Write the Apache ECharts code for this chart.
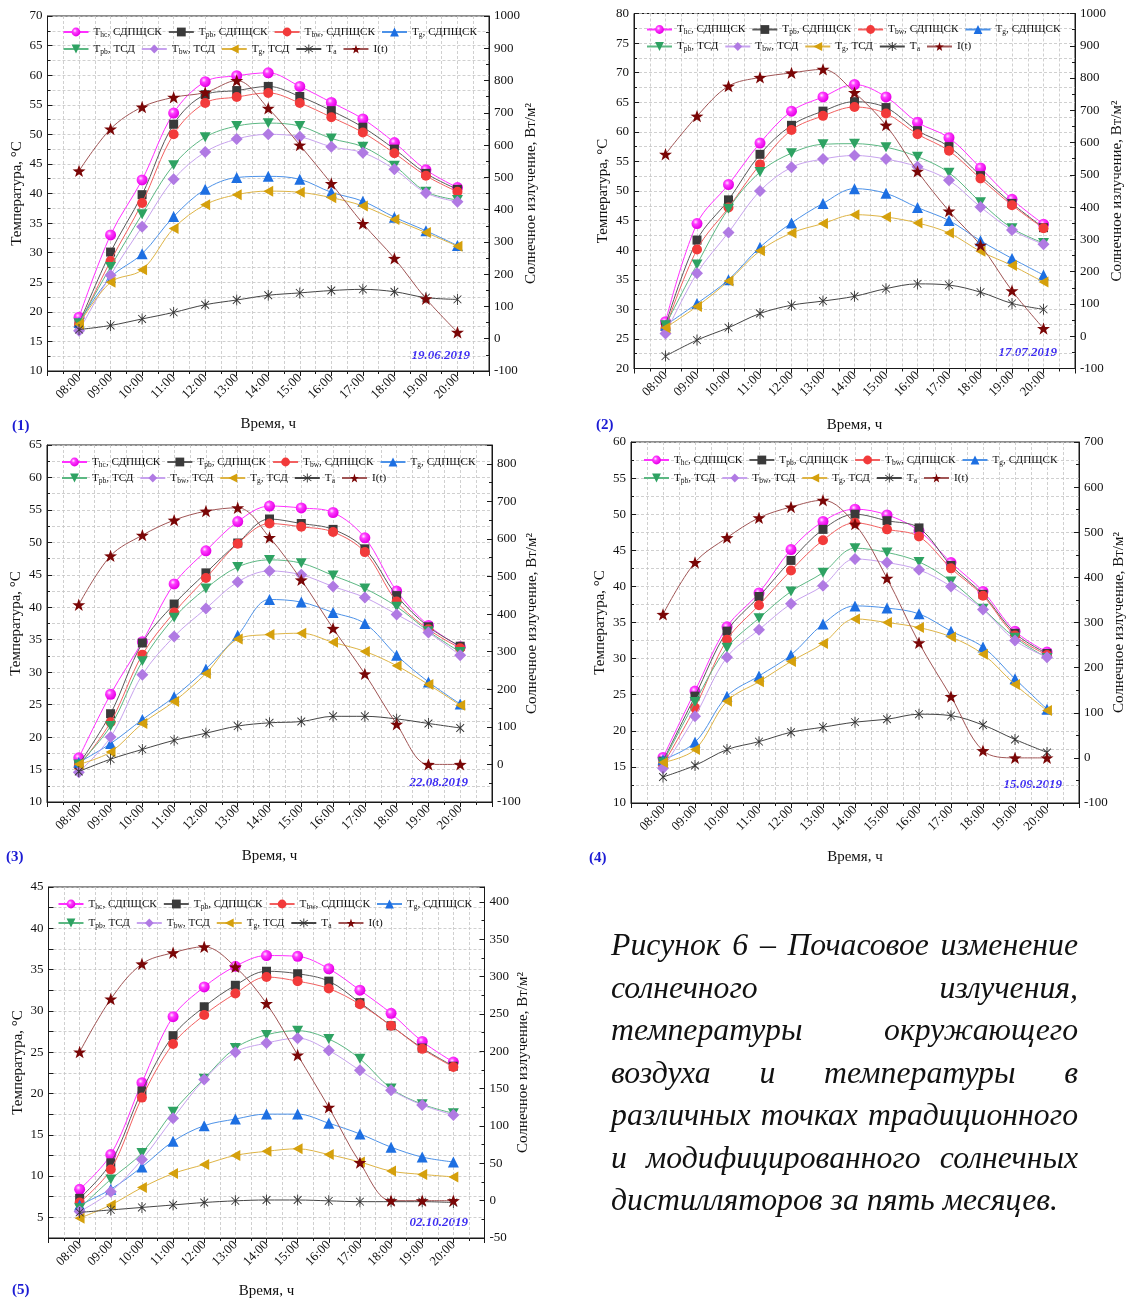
<!DOCTYPE html>
<html><head><meta charset="utf-8">
<script src="https://cdn.jsdelivr.net/npm/echarts@6/dist/echarts.min.js"></script>
<style>html,body{margin:0;padding:0;background:#fff;}#c{width:1126px;height:1299px;}</style>
</head><body><div id="c"></div>
<script>
// ---------- DATA ----------
const hours = [8, 9, 10, 11, 12, 13, 14, 15, 16, 17, 18, 19, 20];
const tickLabels = ['08:00','09:00','10:00','11:00','12:00','13:00','14:00','15:00','16:00','17:00','18:00','19:00','20:00'];
const seriesNames = ['Thc, СДПЩСК','Tpb, СДПЩСК','Tbw, СДПЩСК','Tg, СДПЩСК','Tpb, ТСД','Tbw, ТСД','Tg, ТСД','Ta','I(t)'];
const panelDates = ['19.06.2019','17.07.2019','22.08.2019','15.09.2019','02.10.2019'];
const panelTags = ['(1)','(2)','(3)','(4)','(5)'];

// Panel 1 — 19.06.2019
const p1_Thc  = [19.1, 33.0, 42.3, 53.6, 58.9, 59.9, 60.4, 58.1, 55.4, 52.6, 48.6, 44.0, 41.0];
const p1_Tpb  = [18.0, 30.1, 39.8, 51.7, 56.7, 57.4, 58.1, 56.4, 54.0, 51.2, 47.5, 43.4, 40.7];
const p1_Tbw  = [17.8, 28.6, 38.4, 50.0, 55.3, 56.3, 57.0, 55.3, 52.9, 50.3, 46.8, 43.0, 40.3];
const p1_Tg   = [18.2, 25.8, 29.8, 36.1, 40.7, 42.7, 42.9, 42.4, 40.2, 38.7, 36.0, 33.7, 31.2];
const p1_TpbT = [18.1, 27.6, 36.5, 44.8, 49.5, 51.4, 51.9, 51.4, 49.3, 47.9, 44.7, 40.3, 38.9];
const p1_TbwT = [16.8, 26.2, 34.4, 42.4, 47.0, 49.2, 50.0, 49.6, 47.9, 46.9, 44.1, 40.1, 38.6];
const p1_TgT  = [17.9, 25.0, 27.1, 34.1, 38.1, 39.8, 40.4, 40.2, 39.3, 37.9, 35.6, 33.4, 31.1];
const p1_Ta   = [17.0, 17.7, 18.8, 19.9, 21.2, 22.0, 22.8, 23.2, 23.6, 23.8, 23.4, 22.4, 22.1];
const p1_I    = [520, 650, 718, 748, 763, 800, 714, 600, 481, 357, 249, 124, 20];

// Panel 2 — 17.07.2019
const p2_Thc  = [27.9, 44.5, 51.1, 58.1, 63.5, 65.9, 68.0, 65.9, 61.6, 59.0, 53.9, 48.6, 44.4];
const p2_Tpb  = [27.3, 41.7, 48.5, 56.2, 61.1, 63.5, 65.1, 64.1, 60.2, 57.5, 52.6, 47.9, 43.8];
const p2_Tbw  = [26.8, 40.1, 47.2, 54.5, 60.3, 62.7, 64.2, 63.1, 59.6, 56.8, 52.1, 47.6, 43.7];
const p2_Tg   = [27.3, 31.0, 35.0, 40.5, 44.6, 47.9, 50.4, 49.6, 47.2, 45.0, 41.6, 38.6, 35.8];
const p2_TpbT = [27.3, 37.6, 47.0, 53.2, 56.4, 57.9, 58.0, 57.4, 55.8, 53.1, 48.1, 43.7, 41.2];
const p2_TbwT = [25.9, 36.1, 43.0, 50.0, 54.0, 55.4, 56.0, 55.4, 54.1, 51.8, 47.3, 43.4, 41.0];
const p2_TgT  = [26.9, 30.5, 34.8, 39.9, 42.9, 44.5, 46.0, 45.6, 44.6, 42.9, 39.8, 37.4, 34.6];
const p2_Ta   = [22.1, 24.8, 26.9, 29.3, 30.7, 31.4, 32.2, 33.5, 34.3, 34.1, 32.9, 31.0, 30.0];
const p2_I    = [564, 682, 775, 802, 816, 827, 755, 654, 511, 388, 282, 141, 24];

// Panel 3 — 22.08.2019
const p3_Thc  = [16.8, 26.6, 34.7, 43.6, 48.7, 53.2, 55.6, 55.3, 54.6, 50.7, 42.5, 37.2, 33.9];
const p3_Tpb  = [15.8, 23.6, 34.5, 40.5, 45.3, 49.9, 53.6, 52.9, 52.0, 49.0, 41.8, 37.0, 34.0];
const p3_Tbw  = [15.5, 22.3, 32.7, 39.2, 44.5, 49.8, 52.9, 52.4, 51.6, 48.5, 40.9, 36.6, 33.7];
const p3_Tg   = [16.1, 19.0, 22.7, 26.2, 30.5, 35.7, 41.2, 40.8, 39.2, 37.5, 32.6, 28.5, 25.1];
const p3_TpbT = [15.8, 21.7, 31.7, 38.4, 42.9, 46.2, 47.3, 46.8, 44.9, 42.9, 40.1, 36.3, 33.1];
const p3_TbwT = [14.6, 20.0, 29.6, 35.5, 39.8, 43.9, 45.6, 45.0, 43.2, 41.5, 38.9, 36.1, 32.6];
const p3_TgT  = [15.8, 17.7, 22.1, 25.5, 29.8, 35.1, 35.8, 36.0, 34.6, 33.2, 31.0, 28.1, 24.9];
const p3_Ta   = [14.7, 16.6, 18.1, 19.5, 20.6, 21.7, 22.2, 22.4, 23.2, 23.2, 22.8, 22.1, 21.4];
const p3_I    = [425, 555, 610, 650, 674, 683, 604, 491, 362, 241, 107, 0, 0];

// Panel 4 — 15.09.2019
const p4_Thc  = [16.3, 25.5, 34.4, 39.1, 45.1, 49.0, 50.7, 49.9, 47.7, 43.3, 39.3, 33.8, 30.9];
const p4_Tpb  = [15.8, 24.8, 33.8, 38.6, 43.6, 47.9, 50.0, 49.1, 48.1, 42.9, 38.9, 33.5, 30.7];
const p4_Tbw  = [15.3, 23.2, 32.6, 37.4, 42.2, 46.4, 48.8, 47.9, 46.9, 42.5, 38.7, 33.2, 30.5];
const p4_Tg   = [16.0, 18.4, 24.8, 27.6, 30.5, 34.8, 37.3, 37.0, 36.2, 33.8, 31.6, 27.2, 23.0];
const p4_TpbT = [15.6, 24.0, 31.5, 35.6, 39.3, 41.9, 45.3, 44.7, 43.4, 40.7, 36.9, 32.9, 30.1];
const p4_TbwT = [14.8, 22.0, 30.2, 34.0, 37.6, 40.1, 43.8, 43.3, 42.3, 40.0, 36.8, 32.5, 30.2];
const p4_TgT  = [15.6, 17.4, 24.1, 26.8, 29.6, 32.1, 35.5, 35.0, 34.3, 33.0, 30.6, 26.4, 22.8];
const p4_Ta   = [13.6, 15.2, 17.4, 18.5, 19.8, 20.5, 21.2, 21.6, 22.3, 22.1, 20.8, 18.8, 17.0];
const p4_I    = [318, 433, 488, 532, 556, 571, 518, 398, 255, 136, 16, 0, 0];

// Panel 5 — 02.10.2019
const p5_Thc  = [8.4, 12.6, 21.3, 29.3, 32.9, 35.4, 36.7, 36.6, 35.1, 32.5, 29.7, 26.3, 23.8];
const p5_Tpb  = [7.3, 11.6, 20.3, 27.0, 30.5, 33.1, 34.8, 34.5, 33.6, 31.0, 28.2, 25.5, 23.3];
const p5_Tbw  = [6.8, 10.8, 19.5, 26.0, 29.5, 32.1, 34.1, 33.6, 32.7, 30.8, 28.2, 25.4, 23.2];
const p5_Tg   = [6.5, 8.4, 11.1, 14.2, 16.1, 16.9, 17.5, 17.5, 16.4, 15.1, 13.5, 12.3, 11.7];
const p5_TpbT = [6.1, 9.6, 12.8, 17.8, 21.8, 25.5, 27.1, 27.6, 26.6, 24.2, 20.6, 18.7, 17.6];
const p5_TbwT = [5.7, 8.1, 12.0, 17.0, 21.7, 25.0, 26.1, 26.7, 25.2, 22.8, 20.4, 18.6, 17.4];
const p5_TgT  = [4.9, 6.5, 8.6, 10.3, 11.4, 12.5, 13.0, 13.3, 12.6, 11.7, 10.6, 10.2, 9.9];
const p5_Ta   = [5.6, 5.9, 6.2, 6.5, 6.8, 7.0, 7.1, 7.1, 7.0, 6.9, 6.9, 6.9, 6.8];
const p5_I    = [199, 270, 317, 332, 340, 313, 264, 195, 125, 51, 0, 0, 0];

const captionLines = [
  'Рисунок 6 – Почасовое изменение',
  'солнечного излучения,',
  'температуры окружающего',
  'воздуха и температуры в',
  'различных точках традиционного',
  'и модифицированного солнечных',
  'дистилляторов за пять месяцев.'
];

// ---------- STYLE / LAYOUT ----------
const FONT = '"Liberation Serif","Times New Roman",Times,serif';
const GRID_LINE = {color:'#c4c4c4', type:[3,2], width:0.8};
const AX = '#1a1a1a';
const TICK_FS = 13;

function starPath(){
  let d='';
  for(let k=0;k<10;k++){
    const r = k%2===0 ? 50 : 20;
    const a = -Math.PI/2 + k*Math.PI/5;
    d += (k===0?'M':'L') + (50+r*Math.cos(a)).toFixed(2) + ',' + (50+r*Math.sin(a)).toFixed(2);
  }
  return 'path://' + d + 'Z';
}
function asteriskPath(){
  let d='';
  [90,45,135].forEach(a=>{
    const r=a*Math.PI/180, c=Math.cos(r), s=Math.sin(r), L=50, w=4;
    const pts=[[50+L*c-w*s,50+L*s+w*c],[50+L*c+w*s,50+L*s-w*c],[50-L*c+w*s,50-L*s-w*c],[50-L*c-w*s,50-L*s+w*c]];
    d += 'M' + pts.map(p=>p[0].toFixed(2)+','+p[1].toFixed(2)).join('L') + 'Z';
  });
  return 'path://' + d;
}
const TRI_DOWN = 'path://M0,0L10,0L5,9Z';
const TRI_LEFT = 'path://M9,0L9,10L0,5Z';

const sphere = {type:'radial', x:0.38, y:0.36, r:0.62, colorStops:[
  {offset:0, color:'#ffe8ff'}, {offset:0.35, color:'#ff3cff'}, {offset:1, color:'#e600e6'}]};

const STYLES = [
  {color:sphere,   line:'#ff30ff', symbol:'circle',   size:11},
  {color:'#3a3a3a',line:'#5a5a5a', symbol:'rect',     size:9},
  {color:'#f23a3a',line:'#f26060', symbol:'circle',   size:10},
  {color:'#1d6fe2',line:'#4d92e8', symbol:'triangle', size:11},
  {color:'#2ea262',line:'#5cb883', symbol:TRI_DOWN,   size:11},
  {color:'#b07ae3',line:'#c7a2ee', symbol:'diamond',  size:12},
  {color:'#d5a00c',line:'#deb445', symbol:TRI_LEFT,   size:11},
  {color:'#333333',line:'#444444', symbol:asteriskPath(), size:11},
  {color:'#7a0606',line:'#a05555', symbol:starPath(), size:13}
];

const panels = [
  {grid:{left:47.5, top:16,  width:441.5, height:355}, yL:{min:10, max:70, interval:5}, yR:{min:-100, max:1000, interval:100},
   temps:[p1_Thc,p1_Tpb,p1_Tbw,p1_Tg,p1_TpbT,p1_TbwT,p1_TgT,p1_Ta], irr:p1_I, legRows:[16,33], legLeft:15, xGap:46,
   date:[470,356], tag:[12,426]},
  {grid:{left:634, top:13.5, width:441, height:355}, yL:{min:20, max:80, interval:5}, yR:{min:-100, max:1000, interval:100},
   temps:[p2_Thc,p2_Tpb,p2_Tbw,p2_Tg,p2_TpbT,p2_TbwT,p2_TgT,p2_Ta], irr:p2_I, legRows:[16,33], legLeft:12, xGap:49,
   date:[1057,353], tag:[596,425]},
  {grid:{left:47, top:445, width:445, height:357}, yL:{min:10, max:65, interval:5}, yR:{min:-100, max:850, interval:100},
   temps:[p3_Thc,p3_Tpb,p3_Tbw,p3_Tg,p3_TpbT,p3_TbwT,p3_TgT,p3_Ta], irr:p3_I, legRows:[17,33], legLeft:14, xGap:47,
   date:[468,783], tag:[6,857]},
  {grid:{left:631, top:442, width:448, height:361}, yL:{min:10, max:60, interval:5}, yR:{min:-100, max:700, interval:100},
   temps:[p4_Thc,p4_Tpb,p4_Tbw,p4_Tg,p4_TpbT,p4_TbwT,p4_TgT,p4_Ta], irr:p4_I, legRows:[18,36], legLeft:12, xGap:47,
   date:[1062,785], tag:[589,858]},
  {grid:{left:48.5, top:887, width:436, height:351}, yL:{min:2.5, max:45, interval:2.5}, yR:{min:-50, max:420, interval:50},
   temps:[p5_Thc,p5_Tpb,p5_Tbw,p5_Tg,p5_TpbT,p5_TbwT,p5_TgT,p5_Ta], irr:p5_I, legRows:[17,36], legLeft:9, xGap:46,
   date:[468,1223], tag:[12,1290]}
];

const SUBS = {
  'Thc, СДПЩСК':['T','hc',', СДПЩСК'], 'Tpb, СДПЩСК':['T','pb',', СДПЩСК'], 'Tbw, СДПЩСК':['T','bw',', СДПЩСК'],
  'Tg, СДПЩСК':['T','g',', СДПЩСК'], 'Tpb, ТСД':['T','pb',', ТСД'], 'Tbw, ТСД':['T','bw',', ТСД'],
  'Tg, ТСД':['T','g',', ТСД'], 'Ta':['T','a',''], 'I(t)':['I(t)','','']
};
function legendFmt(name){
  const p = SUBS[name];
  let s = '{m|' + p[0] + '}';
  if (p[1]) s += '{s|' + p[1] + '}';
  if (p[2]) s += '{m|' + p[2] + '}';
  return s;
}
const legendRich = {
  m:{fontSize:11.2, fontFamily:FONT, color:'#111', lineHeight:14},
  s:{fontSize:7.5, fontFamily:FONT, color:'#111', lineHeight:8, padding:[6,0,0,0]}
};

const grids=[], xAxes=[], yAxes=[], series=[], legends=[], graphics=[];
const isMult = (v, step) => Math.abs(v/step - Math.round(v/step)) < 1e-6;

panels.forEach((p, pi)=>{
  grids.push(Object.assign({show:true, borderColor:AX, borderWidth:1, backgroundColor:'transparent', containLabel:false, outerBoundsMode:'none'}, p.grid));
  xAxes.push({
    type:'value', gridIndex:pi, min:7, max:21, interval:1,
    name:'Время, ч', nameLocation:'middle', nameGap:p.xGap,
    nameTextStyle:{fontSize:15, fontFamily:FONT, color:'#111'},
    axisLine:{show:true, onZero:false, lineStyle:{color:AX, width:1}},
    axisTick:{show:true, inside:false, length:5, lineStyle:{color:AX}},
    minorTick:{show:true, splitNumber:2, length:3, lineStyle:{color:AX}},
    axisLabel:{rotate:45, fontSize:TICK_FS, fontFamily:FONT, color:'#111', margin:5,
      formatter:v=>{ const k=hours.indexOf(Math.round(v)); return (k<0||!isMult(v,1)) ? '' : tickLabels[k]; }},
    splitLine:{show:true, lineStyle:GRID_LINE},
    minorSplitLine:{show:true, lineStyle:GRID_LINE}
  });
  const lStep = p.yL.interval === 2.5 ? 5 : p.yL.interval;
  yAxes.push({
    type:'value', gridIndex:pi, position:'left', min:p.yL.min, max:p.yL.max, interval:p.yL.interval,
    name:'Температура, °C', nameLocation:'middle', nameGap:23,
    nameTextStyle:{fontSize:15, fontFamily:FONT, color:'#111'},
    axisLine:{show:true, onZero:false, lineStyle:{color:AX, width:1}},
    axisTick:{show:true, inside:true, length:5, lineStyle:{color:AX}},
    minorTick:{show:p.yL.interval!==2.5, splitNumber:2, length:3, lineStyle:{color:AX}},
    axisLabel:{fontSize:TICK_FS, fontFamily:FONT, color:'#111', margin:5,
      formatter:v=> isMult(v,lStep) ? String(Math.round(v)) : ''},
    splitLine:{show:true, lineStyle:GRID_LINE},
    minorSplitLine:{show:p.yL.interval!==2.5, lineStyle:GRID_LINE}
  });
  yAxes.push({
    type:'value', gridIndex:pi, position:'right', min:p.yR.min, max:p.yR.max, interval:p.yR.interval,
    name:'Солнечное излучение, Вт/м²', nameLocation:'middle', nameGap:31,
    nameTextStyle:{fontSize:15, fontFamily:FONT, color:'#111'},
    axisLine:{show:true, onZero:false, lineStyle:{color:AX, width:1}},
    axisTick:{show:true, inside:true, length:5, lineStyle:{color:AX}},
    minorTick:{show:true, splitNumber:2, length:3, lineStyle:{color:AX}},
    axisLabel:{fontSize:TICK_FS, fontFamily:FONT, color:'#111', margin:5,
      formatter:v=> isMult(v - p.yR.min, p.yR.interval) ? String(Math.round(v)) : ''},
    splitLine:{show:false}, minorSplitLine:{show:false}
  });
  const allSets = p.temps.concat([p.irr]);
  allSets.forEach((arr, k)=>{
    const st = STYLES[k];
    series.push({
      name:seriesNames[k], type:'line', xAxisIndex:pi, yAxisIndex: k===8 ? 2*pi+1 : 2*pi,
      data: hours.map((h,i)=>[h, arr[i]]),
      smooth:0.35, symbol:st.symbol, symbolSize:st.size, symbolKeepAspect:true,
      itemStyle:{color:st.color}, lineStyle:{color:st.line, width:1},
      emphasis:{disabled:true}, z: 3 + k, animation:false
    });
  });
  p.legRows.forEach((off, r)=>{
    legends.push({
      left: p.grid.left + p.legLeft, top: p.grid.top + off - 7, orient:'horizontal', padding:0,
      itemWidth:25, itemHeight:11, itemGap:6, selectedMode:false,
      data: r===0 ? seriesNames.slice(0,4) : seriesNames.slice(4),
      formatter: legendFmt, textStyle:{fontSize:11.2, fontFamily:FONT, color:'#111', rich:legendRich}
    });
  });
  graphics.push({type:'text', x:p.date[0], y:p.date[1], silent:true,
    style:{text:panelDates[pi], fontSize:13, fontFamily:FONT, fontStyle:'italic', fontWeight:'bold', fill:'#3d2cf2', align:'right', verticalAlign:'middle'}});
  graphics.push({type:'text', x:p.tag[0], y:p.tag[1], silent:true,
    style:{text:panelTags[pi], fontSize:15, fontFamily:FONT, fontWeight:'bold', fill:'#1b1bd4', align:'left', verticalAlign:'middle'}});
});

// Caption (justified, italic)
(function(){
  const CAP_L = 611, CAP_R = 1078, CAP_Y0 = 947, CAP_DY = 42.5;
  const ctx = document.createElement('canvas').getContext('2d');
  ctx.font = 'italic 27px ' + FONT;
  const lastW = ctx.measureText(captionLines[captionLines.length-1]).width;
  let fs = 27 * 447 / lastW;
  fs = Math.max(24, Math.min(34, fs));
  ctx.font = 'italic ' + fs + 'px ' + FONT;
  const spaceW = ctx.measureText(' ').width;
  captionLines.forEach((line, li)=>{
    const y = CAP_Y0 + li*CAP_DY;
    const words = line.split(' ');
    const ws = words.map(w=>ctx.measureText(w).width);
    const tot = ws.reduce((a,b)=>a+b,0);
    const last = li === captionLines.length-1;
    let gap = last ? spaceW : (CAP_R - CAP_L - tot)/(words.length-1);
    if (gap < spaceW*0.6) gap = spaceW*0.6;
    let x = CAP_L;
    words.forEach((w,i)=>{
      graphics.push({type:'text', x:x, y:y, silent:true,
        style:{text:w, fontSize:fs, fontFamily:FONT, fontStyle:'italic', fill:'#111', align:'left', verticalAlign:'middle'}});
      x += ws[i] + gap;
    });
  });
})();

const chart = echarts.init(document.getElementById('c'), null, {renderer:'canvas'});
chart.setOption({
  backgroundColor:'#ffffff',
  animation:false,
  grid:grids, xAxis:xAxes, yAxis:yAxes, legend:legends, series:series, graphic:graphics,
  tooltip:{show:false}
});
</script>
</body></html>
